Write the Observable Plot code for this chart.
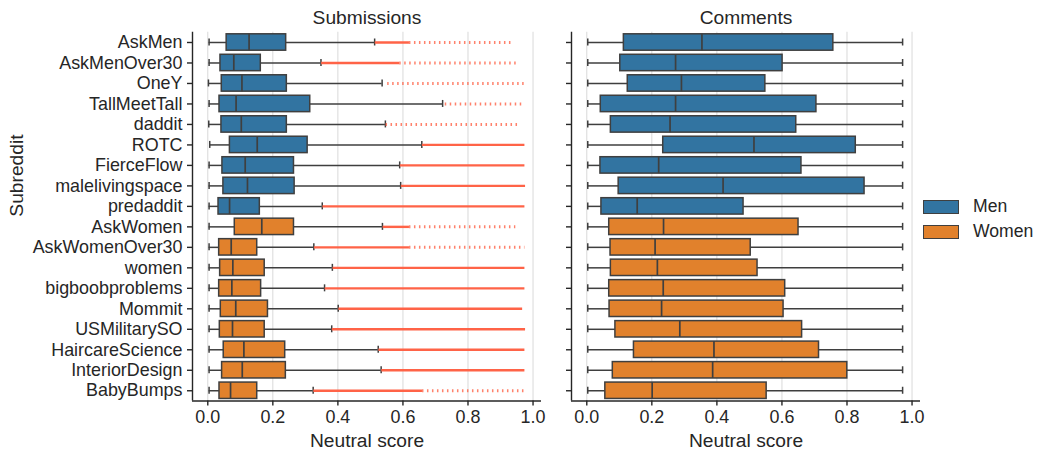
<!DOCTYPE html>
<html>
<head>
<meta charset="utf-8">
<script src="https://cdn.jsdelivr.net/npm/d3@7"></script>
<script src="https://cdn.jsdelivr.net/npm/@observablehq/plot@0.6"></script>
<style>
  html, body { margin: 0; padding: 0; background: #fff; }
  #wrap { position: relative; width: 1042px; height: 454px; font-family: "Liberation Sans", Arial, sans-serif; color: #262626; }
  #wrap svg { position: absolute; top: 0; }
  .leg { position: absolute; left: 923px; display: flex; align-items: center; font-size: 17.6px; }
  .leg span.sw { display: inline-block; width: 34px; height: 12px; border: 1.3px solid #3f3f3f; margin-right: 14px; }
</style>
</head>
<body>
<div id="wrap"></div>
<script>
const subreddits = ["AskMen","AskMenOver30","OneY","TallMeetTall","daddit","ROTC","FierceFlow","malelivingspace","predaddit",
  "AskWomen","AskWomenOver30","women","bigboobproblems","Mommit","USMilitarySO","HaircareScience","InteriorDesign","BabyBumps"];
const groups = ["Men","Men","Men","Men","Men","Men","Men","Men","Men",
  "Women","Women","Women","Women","Women","Women","Women","Women","Women"];
const groupNames = ["Men","Women"];
const groupColors = ["#3274a1","#e1812c"];
const panelTitles = ["Submissions","Comments"];
const xTicks = [0, 0.2, 0.4, 0.6, 0.8, 1.0];

// Submissions: box statistics
const subLo  = [0.004,0.004,0.002,0.004,0.003,0.006,0.004,0.004,0.004, 0.004,0.004,0.004,0.004,0.004,0.004,0.004,0.004,0.004];
const subQ1  = [0.058,0.039,0.043,0.036,0.042,0.068,0.045,0.048,0.033, 0.083,0.035,0.038,0.035,0.040,0.037,0.049,0.044,0.036];
const subMed = [0.127,0.080,0.105,0.087,0.103,0.152,0.115,0.122,0.067, 0.166,0.072,0.077,0.074,0.086,0.076,0.111,0.106,0.070];
const subQ3  = [0.241,0.163,0.243,0.315,0.243,0.307,0.265,0.267,0.160, 0.265,0.152,0.175,0.164,0.185,0.175,0.238,0.240,0.152];
const subHi  = [0.513,0.348,0.536,0.722,0.546,0.658,0.590,0.593,0.352, 0.537,0.326,0.383,0.359,0.401,0.381,0.524,0.533,0.324];
// Submissions: outliers (first outlier, end of dense run, largest outlier)
const outStart    = [0.515,0.350,0.553,0.730,0.548,0.660,0.592,0.595,0.354, 0.539,0.328,0.385,0.361,0.403,0.383,0.526,0.535,0.326];
const outDenseEnd = [0.620,0.590,0.553,0.730,0.548,0.975,0.975,0.977,0.975, 0.620,0.620,0.975,0.975,0.968,0.977,0.975,0.975,0.660];
const outMax      = [0.935,0.955,0.977,0.971,0.962,0.975,0.975,0.977,0.975, 0.947,0.975,0.975,0.975,0.968,0.977,0.975,0.975,0.975];

// Comments: box statistics
const comLo  = [0.003,0.003,0.003,0.003,0.003,0.003,0.003,0.003,0.003, 0.003,0.003,0.003,0.003,0.003,0.003,0.003,0.003,0.003];
const comQ1  = [0.114,0.103,0.126,0.043,0.074,0.235,0.042,0.098,0.045, 0.069,0.073,0.074,0.069,0.070,0.088,0.145,0.080,0.057];
const comMed = [0.354,0.273,0.291,0.273,0.256,0.514,0.221,0.419,0.155, 0.236,0.210,0.217,0.235,0.230,0.286,0.391,0.387,0.201];
const comQ3  = [0.758,0.602,0.549,0.706,0.644,0.827,0.660,0.854,0.482, 0.651,0.504,0.525,0.610,0.605,0.662,0.714,0.801,0.553];
const comHi  = [0.971,0.971,0.971,0.971,0.971,0.971,0.971,0.971,0.971, 0.971,0.971,0.971,0.971,0.971,0.971,0.971,0.971,0.971];

const subRows = subreddits.map((s, i) => ({sub: s, group: groups[i], lo: subLo[i], q1: subQ1[i], med: subMed[i], q3: subQ3[i], hi: subHi[i],
  os: outStart[i], od: outDenseEnd[i], om: outMax[i]}));
const comRows = subreddits.map((s, i) => ({sub: s, group: groups[i], lo: comLo[i], q1: comQ1[i], med: comMed[i], q3: comQ3[i], hi: comHi[i]}));

const H = 454, MT = 31.75, MB = 53.5;
const bw = (H - MT - MB) / subreddits.length;
const xDomain = [-0.047, 1.026];
const lineC = "#3f3f3f";
const font = "'Liberation Sans', Arial, sans-serif";

function panel(rows, title, opts) {
  const marks = [
    Plot.gridX(xTicks, {stroke: "#d9d9d9", strokeOpacity: 1, strokeWidth: 1}),
    Plot.ruleY(rows, {y: "sub", x1: "lo", x2: "q1", stroke: lineC, strokeWidth: 1.5}),
    Plot.ruleY(rows, {y: "sub", x1: "q3", x2: "hi", stroke: lineC, strokeWidth: 1.5}),
    Plot.tickX(rows, {x: "lo", y: "sub", insetTop: (bw - 7) / 2, insetBottom: (bw - 7) / 2, stroke: lineC, strokeWidth: 1.5}),
    Plot.tickX(rows, {x: "hi", y: "sub", insetTop: (bw - 7) / 2, insetBottom: (bw - 7) / 2, stroke: lineC, strokeWidth: 1.5}),
  ];
  if (opts.outliers) {
    marks.push(
      Plot.ruleY(rows.filter(d => d.od > d.os), {y: "sub", x1: "os", x2: "od", stroke: "#ff6347", strokeWidth: 2.4}),
      Plot.ruleY(rows.filter(d => d.om > d.od), {y: "sub", x1: "od", x2: "om", stroke: "#ff6347", strokeWidth: 3, strokeDasharray: "1.5,3.5", strokeOpacity: 0.8})
    );
  }
  marks.push(
    Plot.barX(rows, {y: "sub", x1: "q1", x2: "q3", fill: "group", stroke: lineC, strokeWidth: 1.5, insetTop: bw * 0.1, insetBottom: bw * 0.1}),
    Plot.tickX(rows, {x: "med", y: "sub", insetTop: bw * 0.1, insetBottom: bw * 0.1, stroke: lineC, strokeWidth: 1.7}),
    Plot.ruleX([xDomain[0]], {stroke: "#262626", strokeWidth: 1.4}),
    Plot.ruleY([subreddits[subreddits.length - 1]], {dy: bw / 2, stroke: "#262626", strokeWidth: 1.4}),
    Plot.axisX(xTicks, {tickFormat: d3.format(".1f"), tickSize: 5, tickPadding: 4, label: null, strokeWidth: 1.4}),
    Plot.axisY({tickSize: 5, tickPadding: 5, label: null, strokeWidth: 1.4, tickFormat: opts.labels ? (d => d) : (() => "")}),
    Plot.text([title], {frameAnchor: "top", dy: -14, lineAnchor: "middle", fontSize: 19.2, fill: "#262626"}),
    Plot.text(["Neutral score"], {frameAnchor: "bottom", dy: 39.5, lineAnchor: "middle", fontSize: 19.2, fill: "#262626"})
  );
  if (opts.labels) {
    marks.push(Plot.text(["Subreddit"], {frameAnchor: "left", dx: -176, rotate: -90, lineAnchor: "middle", fontSize: 19.2, fill: "#262626"}));
  }
  return Plot.plot({
    width: opts.width, height: H,
    marginLeft: opts.ml, marginRight: opts.mr, marginTop: MT, marginBottom: MB,
    style: {fontSize: "17.9px", fontFamily: font, color: "#262626", background: "transparent", overflow: "visible"},
    x: {domain: xDomain},
    y: {type: "band", domain: subreddits, padding: 0, round: false},
    color: {domain: groupNames, range: groupColors},
    marks
  });
}

const wrap = document.getElementById("wrap");
const left = panel(subRows, panelTitles[0], {width: 549, ml: 192, mr: 8, outliers: true, labels: true});
left.style.left = "0px";
const right = panel(comRows, panelTitles[1], {width: 365, ml: 8, mr: 8, outliers: false, labels: false});
right.style.left = "563px";
wrap.appendChild(left);
wrap.appendChild(right);

groupNames.forEach((g, i) => {
  const el = document.createElement("div");
  el.className = "leg";
  el.style.top = (196 + i * 25) + "px";
  el.innerHTML = `<span class="sw" style="background:${groupColors[i]}"></span>${g}`;
  wrap.appendChild(el);
});
</script>
</body>
</html>
